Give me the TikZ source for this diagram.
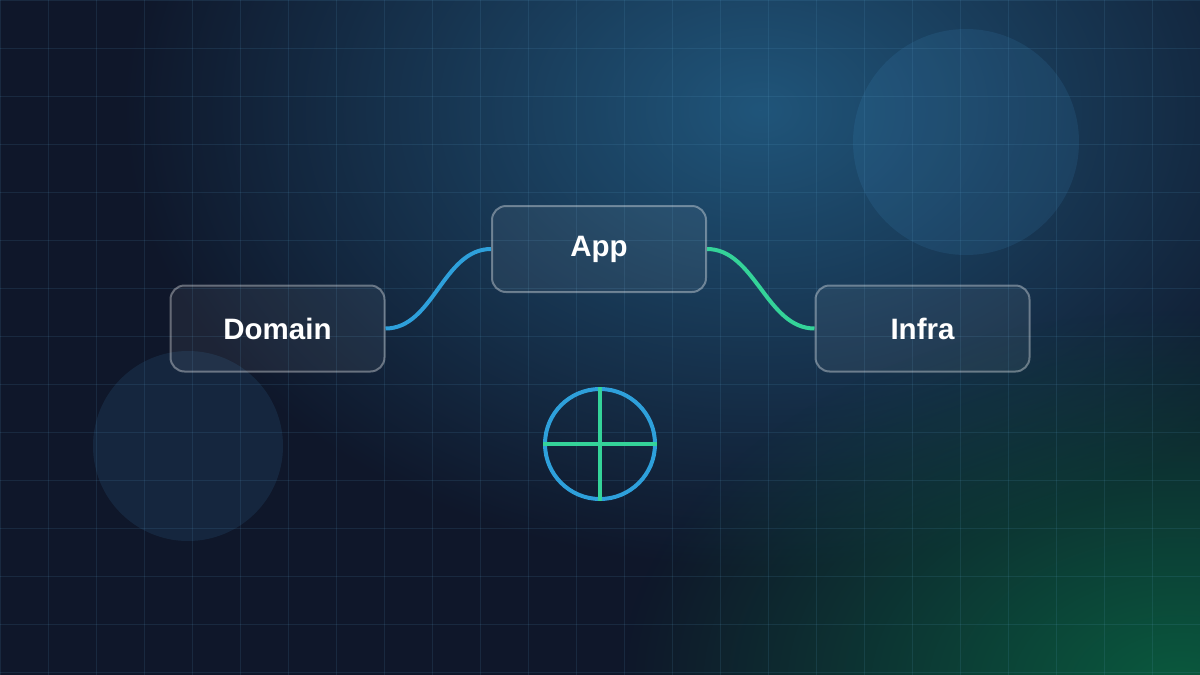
\documentclass[tikz,border=0pt]{standalone}
\usepackage{fontspec}
\setsansfont{Liberation Sans}
\usepackage{tikz}
\usetikzlibrary{
  fadings,
  positioning
}
\definecolor{bgnavy}{HTML}{0F172A}
\definecolor{glowblue}{HTML}{20557A}
\definecolor{glowgreen}{HTML}{0A5A3E}
\definecolor{linkblue}{HTML}{2EA0DB}
\definecolor{linkgreen}{HTML}{34D399}
\definecolor{gridblue}{HTML}{5FA8D3}
\definecolor{bubblecol}{HTML}{4AA8E8}
\tikzfading[name=glowfade, inner color=transparent!0, outer color=transparent!100]
\tikzset{
  gridline/.style  = {draw=gridblue, draw opacity=0.13, line width=1pt},
  bubble/.style    = {fill=bubblecol, fill opacity=0.11},
  layerbox/.style  = {draw=white, draw opacity=0.35, fill=white,
                      fill opacity=0.06, text opacity=1, text=white,
                      line width=2pt, rounded corners=14pt,
                      minimum width=214pt, minimum height=86pt,
                      font=\sffamily\bfseries\fontsize{29.5}{34}\selectfont},
  linkblue/.style  = {draw=linkblue, line width=4pt},
  linkgreen/.style = {draw=linkgreen, line width=4pt},
  ringnode/.style  = {circle, draw=linkblue, line width=4pt,
                      minimum size=110pt, inner sep=0pt},
  crossline/.style = {draw=linkgreen, line width=4pt},
}

\begin{document}
\begin{tikzpicture}[x=1pt, y=-1pt]
    \useasboundingbox (0,0) rectangle (1200,675);

    % Background glow
    \fill[bgnavy] (0,0) rectangle (1200,675);
    \fill[glowblue, path fading=glowfade] (760,110) ellipse [x radius=640, y radius=460];
    \fill[glowgreen, path fading=glowfade] (1180,690) ellipse [x radius=560, y radius=380];

    % Soft bubbles
    \fill[bubble] (966,142) circle [radius=113];
    \fill[bubble] (188,446) circle [radius=95];

    % Grid
    \foreach \x in {0,48,...,1200} {
        \draw[gridline] (\x,0) -- (\x,675);
    }
    \foreach \y in {0,48,...,672} {
        \draw[gridline] (0,\y) -- (1200,\y);
    }

    % Layers
    \node[layerbox] (app)    at (599,249)     {App};
    \node[layerbox] (domain) at (277.5,328.5) {Domain};
    \node[layerbox] (infra)  at (922.5,328.5) {Infra};

    % Links
    \draw[linkblue] (domain.east) .. controls +(48,0) and +(-48,0) .. (app.west);
    \draw[linkgreen] (app.east) .. controls +(48,0) and +(-48,0) .. (infra.west);

    % Target mark
    \node[ringnode] (target) at (600,444) {};
    \draw[crossline] (target.west) -- (target.east);
    \draw[crossline] (target.north) -- (target.south);

\end{tikzpicture}
\end{document}
